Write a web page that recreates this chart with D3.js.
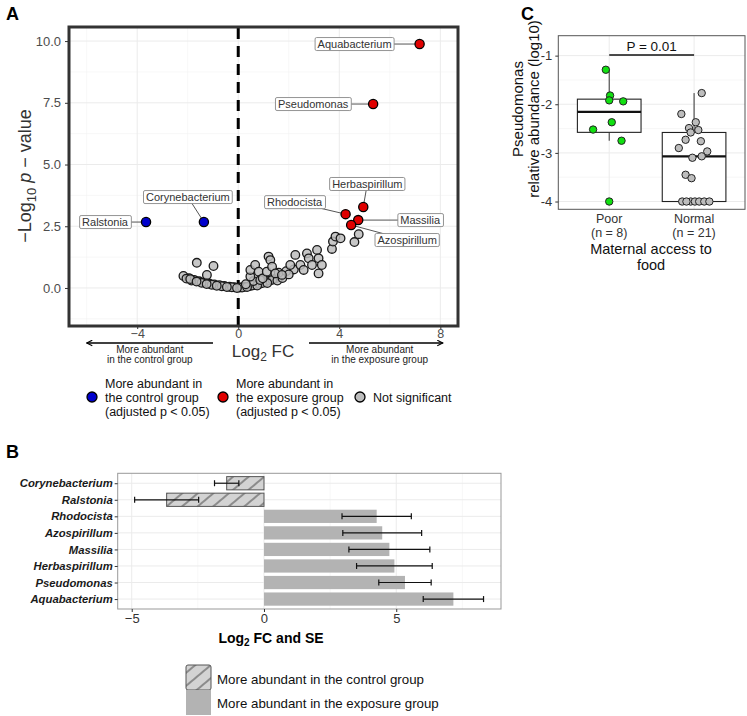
<!DOCTYPE html>
<meta charset="utf-8">
<script src="https://d3js.org/d3.v7.min.js"></script>
<style>
  body { margin: 0; background: #fff; }
  svg text { font-family: "Liberation Sans", Arial, sans-serif; }
</style>
<div id="fig"></div>
<script>

// ---------- data : panel A (volcano) ----------
var sigNames = ["Aquabacterium", "Pseudomonas", "Herbaspirillum", "Rhodocista",
                "Massilia", "Azospirillum", "Corynebacterium", "Ralstonia"];
var sigFC    = [7.18, 5.34, 4.95, 4.25, 4.75, 4.47, -1.36, -3.65];
var sigLogP  = [9.88, 7.45, 3.28, 2.99, 2.75, 2.55, 2.67, 2.67];

var nsFC   = [-2.17, -1.95, -1.75, -1.55, -1.35, -1.15, -0.95, -0.75, -0.55, -0.35, -0.15, 0.05, 0.25, 0.45,
              0.65, 0.85, 1.05, 1.25, 1.45, 1.65, -1.85, -1.45, -1.05, -0.65, -0.25, 0.15, 0.55, 0.95, 1.35,
              -2.05, -1.9, -1.65, -1.25, -0.85, -0.45, -0.05, 0.35, 0.75, 1.15, 1.55, 1.75, 0.6, 0.9, 1.6,
              1.9, 2.2, 2.0, 0.3,
              -1.64, -0.98, -1.24, 0.48, 0.48, 0.67, 0.81, 0.87, 0.97, 1.13, 1.2, 1.27, 1.34, 1.47, 1.73,
              2.06, 2.26, 2.46, 2.59, 2.72, 2.79, 2.92, 3.12, 3.18, 3.18, 3.31, 3.71, 3.75, 3.85, 4.05, 4.6, 4.77];
var nsLogP = [0.49, 0.40, 0.33, 0.27, 0.22, 0.18, 0.14, 0.11, 0.08, 0.05, 0.03, 0.02, 0.05, 0.08,
              0.12, 0.17, 0.23, 0.30, 0.37, 0.45, 0.30, 0.21, 0.13, 0.07, 0.03, 0.02, 0.10, 0.20, 0.33,
              0.38, 0.36, 0.26, 0.16, 0.09, 0.04, 0.00, 0.04, 0.10, 0.20, 0.30, 0.40, 0.28, 0.35, 0.62,
              0.68, 0.75, 0.55, 0.15,
              1.02, 0.89, 0.53, 0.46, 0.73, 0.93, 0.66, 0.32, 0.39, 0.66, 1.27, 1.13, 0.86, 0.59, 0.53,
              0.93, 1.34, 0.93, 0.73, 1.40, 1.20, 0.93, 1.54, 1.20, 0.59, 0.93, 1.58, 1.88, 2.08, 2.01, 1.86, 2.18];

var volcanoXTicks = [-4, 0, 4, 8];
var volcanoYTicks = [0, 2.5, 5, 7.5, 10];

// ---------- data : panel B (bars) ----------
var barNames = ["Corynebacterium", "Ralstonia", "Rhodocista", "Azospirillum",
                "Massilia", "Herbaspirillum", "Pseudomonas", "Aquabacterium"];
var barFC = [-1.41, -3.68, 4.26, 4.47, 4.74, 4.93, 5.33, 7.16];
var barSE = [0.46, 1.21, 1.31, 1.49, 1.53, 1.43, 0.99, 1.14];
var barXTicks = [-5, 0, 5];

// ---------- data : panel C (boxplot) ----------
var groups = ["Poor", "Normal"];
var groupN = [8, 21];
var poorVals   = [-1.29, -1.82, -1.92, -1.94, -2.37, -2.52, -2.75, -4.0];
var poorJit    = [-0.04, 0.01, 0, 0.165, 0.03, -0.19, 0.145, 0];
var normalVals = [-1.77, -2.2, -2.37, -2.49, -2.53, -2.58, -2.73, -2.76, -2.9, -2.97, -3.07,
                  -3.1, -3.45, -3.52, -4, -4, -4, -4, -4, -4, -4];
var normalJit  = [0.09, -0.15, 0.02, -0.06, 0.05, -0.04, -0.1, 0.08, -0.18, 0.155, 0.09,
                  -0.02, -0.1, -0.03, -0.14, -0.04, 0.01, 0.06, 0.12, 0.18, -0.09];
var boxYTicks = [-1, -2, -3, -4];

// label placement (pixel offsets from the point, like ggrepel put them)
var labelOffset = {
  Aquabacterium: [-65, 0], Pseudomonas: [-60, 0], Herbaspirillum: [4, -23],
  Rhodocista: [-51, -12], Massilia: [62, 0], Azospirillum: [56, 15],
  Corynebacterium: [-16, -25], Ralstonia: [-41, 0]
};

var W = 747, H = 716;
var svg = d3.select("#fig").append("svg").attr("width", W).attr("height", H);

// hatch pattern for "control" bars
var defs = svg.append("defs");
var pat = defs.append("pattern")
    .attr("id", "hatch").attr("patternUnits", "userSpaceOnUse")
    .attr("width", 10).attr("height", 10)
    .attr("patternTransform", "rotate(-40)");
pat.append("rect").attr("width", 10).attr("height", 10).attr("fill", "#d3d3d3");
pat.append("line").attr("x1", 0).attr("x2", 10).attr("y1", 5).attr("y2", 5)
    .attr("stroke", "#333").attr("stroke-width", 0.9);

var arrowM = defs.append("marker")
    .attr("id", "arr").attr("viewBox", "0 0 10 10").attr("refX", 9).attr("refY", 5)
    .attr("markerWidth", 7).attr("markerHeight", 7).attr("orient", "auto-start-reverse")
    .attr("markerUnits", "userSpaceOnUse");
arrowM.append("path").attr("d", "M1,1 L9,5 L1,9").attr("fill", "none")
    .attr("stroke", "#000").attr("stroke-width", 1.6);

function styleAxis(g, size, color) {
  g.select(".domain").remove();
  g.selectAll(".tick line").attr("stroke", "#333");
  g.selectAll(".tick text").style("font-size", size + "px").attr("fill", color);
}

function panelLetter(t, x, y) {
  svg.append("text").attr("x", x).attr("y", y).text(t)
    .style("font-size", "18px").style("font-weight", "bold");
}

// =================== PANEL A ===================
var gA = svg.append("g");
var xA = d3.scaleLinear().domain([-6.7, 8.7]).range([69, 458]);
var yA = d3.scaleLinear().domain([-1.54, 10.57]).range([326, 27]);

[-6, -2, 2, 6].forEach(function(v) {
  gA.append("line").attr("x1", xA(v)).attr("x2", xA(v)).attr("y1", 27).attr("y2", 326)
    .attr("stroke", "#f2f2f2").attr("stroke-width", 0.6);
});
[-1.25, 1.25, 3.75, 6.25, 8.75].forEach(function(v) {
  gA.append("line").attr("x1", 69).attr("x2", 458).attr("y1", yA(v)).attr("y2", yA(v))
    .attr("stroke", "#f2f2f2").attr("stroke-width", 0.6);
});
volcanoXTicks.forEach(function(v) {
  gA.append("line").attr("x1", xA(v)).attr("x2", xA(v)).attr("y1", 27).attr("y2", 326)
    .attr("stroke", "#ebebeb").attr("stroke-width", 1);
});
volcanoYTicks.forEach(function(v) {
  gA.append("line").attr("x1", 69).attr("x2", 458).attr("y1", yA(v)).attr("y2", yA(v))
    .attr("stroke", "#ebebeb").attr("stroke-width", 1);
});

// x = 0 dashed line
gA.append("line").attr("x1", xA(0)).attr("x2", xA(0)).attr("y1", 28).attr("y2", 326)
  .attr("stroke", "#000").attr("stroke-width", 3).attr("stroke-dasharray", "11,7");

// not-significant points
gA.selectAll("circle.ns").data(nsFC).enter().append("circle")
  .attr("class", "ns")
  .attr("cx", function(d) { return xA(d); })
  .attr("cy", function(d, i) { return yA(nsLogP[i]); })
  .attr("r", 4.3)
  .attr("fill", "#bdbdbd").attr("fill-opacity", 0.85)
  .attr("stroke", "#1a1a1a").attr("stroke-width", 1.3);

// labels for significant genera
var sig = sigNames.map(function(n, i) {
  return { name: n, fc: sigFC[i], lp: sigLogP[i] };
});
sig.forEach(function(d) {
  var px = xA(d.fc), py = yA(d.lp);
  var off = labelOffset[d.name];
  var cx = px + off[0], cy = py + off[1];
  gA.append("line").attr("x1", px).attr("y1", py).attr("x2", cx).attr("y2", cy)
    .attr("stroke", "#555").attr("stroke-width", 1);
  var lab = gA.append("g");
  var rect = lab.append("rect");
  var t = lab.append("text").attr("x", cx).attr("y", cy).attr("dy", "0.35em")
    .attr("text-anchor", "middle").style("font-size", "11px").attr("fill", "#333").text(d.name);
  var bb = t.node().getBBox();
  rect.attr("x", bb.x - 2.5).attr("y", cy - 6.5).attr("width", bb.width + 5).attr("height", 13)
    .attr("rx", 1.5).attr("fill", "#fff").attr("stroke", "#888").attr("stroke-width", 0.9);
});

// significant points
gA.selectAll("circle.sig").data(sig).enter().append("circle")
  .attr("class", "sig")
  .attr("cx", function(d) { return xA(d.fc); })
  .attr("cy", function(d) { return yA(d.lp); })
  .attr("r", 4.6)
  .attr("fill", function(d) { return d.fc < 0 ? "#0000cd" : "#e00000"; })
  .attr("stroke", "#000").attr("stroke-width", 1.3);

// panel border
gA.append("rect").attr("x", 69).attr("y", 27).attr("width", 389).attr("height", 299)
  .attr("fill", "none").attr("stroke", "#333").attr("stroke-width", 3);

var axA = gA.append("g").attr("transform", "translate(0,327)")
  .call(d3.axisBottom(xA).tickValues(volcanoXTicks).tickSize(2).tickPadding(0)
    .tickFormat(function(d) { return d < 0 ? "\u2212" + Math.abs(d) : d; }));
styleAxis(axA, 12.5, "#4d4d4d");
var ayA = gA.append("g").attr("transform", "translate(68,0)")
  .call(d3.axisLeft(yA).tickValues(volcanoYTicks).tickSize(3).tickPadding(4)
    .tickFormat(d3.format(".1f")));
styleAxis(ayA, 13, "#4d4d4d");

// axis titles
var yl = gA.append("text").attr("transform", "translate(31,176) rotate(-90)")
  .attr("text-anchor", "middle").style("font-size", "18px").attr("fill", "#333");
yl.append("tspan").text("\u2212Log");
yl.append("tspan").attr("dy", 5).style("font-size", "13px").text("10");
yl.append("tspan").attr("dy", -5).style("font-style", "italic").text(" p");
yl.append("tspan").text(" \u2212 value");

var xl = gA.append("text").attr("x", 263).attr("y", 357)
  .attr("text-anchor", "middle").style("font-size", "17px").attr("fill", "#333");
xl.append("tspan").text("Log");
xl.append("tspan").attr("dy", 4).style("font-size", "12px").text("2");
xl.append("tspan").attr("dy", -4).text(" FC");

// direction arrows
gA.append("line").attr("x1", xA(-1)).attr("x2", xA(-6)).attr("y1", 343).attr("y2", 343)
  .attr("stroke", "#000").attr("stroke-width", 1.6).attr("marker-end", "url(#arr)");
gA.append("line").attr("x1", xA(2.8)).attr("x2", xA(8.1)).attr("y1", 343).attr("y2", 343)
  .attr("stroke", "#000").attr("stroke-width", 1.6).attr("marker-end", "url(#arr)");
[[xA(-3.5), ["More abundant", "in the control group"]],
 [xA(5.6), ["More abundant", "in the exposure group"]]].forEach(function(a) {
  var t = gA.append("text").attr("y", 353).attr("text-anchor", "middle")
    .style("font-size", "10px").attr("fill", "#222");
  a[1].forEach(function(s, i) {
    t.append("tspan").attr("x", a[0]).attr("dy", i ? 9.5 : 0).text(s);
  });
});

// legend
var legA = [
  { fill: "#0000cd", x: 92, lines: ["More abundant in", "the control group", "(adjusted p < 0.05)"] },
  { fill: "#e00000", x: 223, lines: ["More abundant in", "the exposure group", "(adjusted p < 0.05)"] },
  { fill: "#bdbdbd", x: 360, lines: ["Not significant"] }
];
legA.forEach(function(l) {
  gA.append("circle").attr("cx", l.x).attr("cy", 397).attr("r", 5)
    .attr("fill", l.fill).attr("stroke", "#000").attr("stroke-width", 1.3);
  var t = gA.append("text").attr("y", l.lines.length === 1 ? 402 : 388)
    .style("font-size", "12.5px").attr("fill", "#111");
  l.lines.forEach(function(s, i) {
    t.append("tspan").attr("x", l.x + 13).attr("dy", i ? 14 : 0).text(s);
  });
});
panelLetter("A", 6, 20);

// =================== PANEL B ===================
var gB = svg.append("g");
var xB = d3.scaleLinear().domain([-5.53, 8.96]).range([117.7, 501]);
var yB = d3.scalePoint().domain(barNames).range([473.3, 609]).padding(0.6);
var bh = yB.step() * 0.8;

[-2.5, 2.5, 7.5].forEach(function(v) {
  gB.append("line").attr("x1", xB(v)).attr("x2", xB(v)).attr("y1", 473.3).attr("y2", 609)
    .attr("stroke", "#f2f2f2").attr("stroke-width", 0.6);
});
barXTicks.forEach(function(v) {
  gB.append("line").attr("x1", xB(v)).attr("x2", xB(v)).attr("y1", 473.3).attr("y2", 609)
    .attr("stroke", "#ebebeb").attr("stroke-width", 1);
});
barNames.forEach(function(n) {
  gB.append("line").attr("x1", 117.7).attr("x2", 501).attr("y1", yB(n)).attr("y2", yB(n))
    .attr("stroke", "#ebebeb").attr("stroke-width", 1);
});

var bars = barNames.map(function(n, i) { return { name: n, fc: barFC[i], se: barSE[i] }; });
gB.selectAll("rect.bar").data(bars).enter().append("rect")
  .attr("class", "bar")
  .attr("x", function(d) { return xB(Math.min(0, d.fc)); })
  .attr("width", function(d) { return Math.abs(xB(d.fc) - xB(0)); })
  .attr("y", function(d) { return yB(d.name) - bh / 2; })
  .attr("height", bh)
  .attr("fill", function(d) { return d.fc < 0 ? "url(#hatch)" : "#b3b3b3"; })
  .attr("stroke", function(d) { return d.fc < 0 ? "#555" : "none"; })
  .attr("stroke-width", 1);

// error bars
bars.forEach(function(d) {
  var y = yB(d.name), lo = xB(d.fc - d.se), hi = xB(d.fc + d.se);
  gB.append("line").attr("x1", lo).attr("x2", hi).attr("y1", y).attr("y2", y)
    .attr("stroke", "#111").attr("stroke-width", 1.2);
  [lo, hi].forEach(function(x) {
    gB.append("line").attr("x1", x).attr("x2", x).attr("y1", y - 3).attr("y2", y + 3)
      .attr("stroke", "#111").attr("stroke-width", 1.2);
  });
});

gB.append("rect").attr("x", 117.7).attr("y", 473.3).attr("width", 501 - 117.7).attr("height", 609 - 473.3)
  .attr("fill", "none").attr("stroke", "#999").attr("stroke-width", 1);

var axB = gB.append("g").attr("transform", "translate(0,609)")
  .call(d3.axisBottom(xB).tickValues(barXTicks).tickSize(3).tickPadding(2));
styleAxis(axB, 13, "#333");
var ayB = gB.append("g").attr("transform", "translate(117.7,0)")
  .call(d3.axisLeft(yB).tickSize(3).tickPadding(2));
styleAxis(ayB, 11.3, "#1a1a1a");
ayB.selectAll(".tick text").style("font-weight", "bold").style("font-style", "italic");

var xlB = gB.append("text").attr("x", 271).attr("y", 643).attr("text-anchor", "middle")
  .style("font-size", "14px").style("font-weight", "bold");
xlB.append("tspan").text("Log");
xlB.append("tspan").attr("dy", 3).style("font-size", "10px").text("2");
xlB.append("tspan").attr("dy", -3).text(" FC and SE");

// legend B
gB.append("rect").attr("x", 186).attr("y", 665).attr("width", 25).attr("height", 25).attr("rx", 2)
  .attr("fill", "url(#hatch)").attr("stroke", "#555");
gB.append("rect").attr("x", 186).attr("y", 690).attr("width", 25).attr("height", 25)
  .attr("fill", "#b3b3b3");
gB.append("text").attr("x", 217).attr("y", 683.5).style("font-size", "13.3px").attr("fill", "#111")
  .text("More abundant in the control group");
gB.append("text").attr("x", 217).attr("y", 707.5).style("font-size", "13.3px").attr("fill", "#111")
  .text("More abundant in the exposure group");
panelLetter("B", 6, 458);

// =================== PANEL C ===================
var gC = svg.append("g");
var xC = d3.scalePoint().domain(groups).range([558.3, 745]).padding(0.6);
var yC = d3.scaleLinear().domain([-4.16, -0.59]).range([209.3, 35.7]);
var unit = xC.step();

[-1.5, -2.5, -3.5].forEach(function(v) {
  gC.append("line").attr("x1", 558.3).attr("x2", 745).attr("y1", yC(v)).attr("y2", yC(v))
    .attr("stroke", "#f2f2f2").attr("stroke-width", 0.6);
});
boxYTicks.forEach(function(v) {
  gC.append("line").attr("x1", 558.3).attr("x2", 745).attr("y1", yC(v)).attr("y2", yC(v))
    .attr("stroke", "#ebebeb").attr("stroke-width", 1);
});
groups.forEach(function(g) {
  gC.append("line").attr("x1", xC(g)).attr("x2", xC(g)).attr("y1", 35.7).attr("y2", 209.3)
    .attr("stroke", "#ebebeb").attr("stroke-width", 1);
});

var groupVals = { Poor: poorVals, Normal: normalVals };
var groupJit = { Poor: poorJit, Normal: normalJit };
var groupFill = { Poor: "#11e011", Normal: "#bdbdbd" };

groups.forEach(function(g) {
  var v = groupVals[g].slice().sort(d3.ascending);
  var q1 = d3.quantile(v, 0.25), med = d3.quantile(v, 0.5), q3 = d3.quantile(v, 0.75);
  var iqr = q3 - q1;
  var lowW = d3.min(v.filter(function(d) { return d >= q1 - 1.5 * iqr; }));
  var hiW = d3.max(v.filter(function(d) { return d <= q3 + 1.5 * iqr; }));
  var cx = xC(g), bw = unit * 0.75;
  gC.append("line").attr("x1", cx).attr("x2", cx).attr("y1", yC(q3)).attr("y2", yC(hiW))
    .attr("stroke", "#333").attr("stroke-width", 1);
  gC.append("line").attr("x1", cx).attr("x2", cx).attr("y1", yC(q1)).attr("y2", yC(lowW))
    .attr("stroke", "#333").attr("stroke-width", 1);
  gC.append("rect").attr("x", cx - bw / 2).attr("width", bw)
    .attr("y", yC(q3)).attr("height", yC(q1) - yC(q3))
    .attr("fill", "#fff").attr("stroke", "#222").attr("stroke-width", 1.1);
  gC.append("line").attr("x1", cx - bw / 2).attr("x2", cx + bw / 2).attr("y1", yC(med)).attr("y2", yC(med))
    .attr("stroke", "#111").attr("stroke-width", 2.2);
});

groups.forEach(function(g) {
  gC.selectAll("circle.p" + g).data(groupVals[g]).enter().append("circle")
    .attr("cx", function(d, i) { return xC(g) + groupJit[g][i] * unit; })
    .attr("cy", function(d) { return yC(d); })
    .attr("r", 3.7)
    .attr("fill", groupFill[g]).attr("stroke", "#222").attr("stroke-width", 1);
});

// significance bar
gC.append("line").attr("x1", xC("Poor")).attr("x2", xC("Normal")).attr("y1", yC(-0.986)).attr("y2", yC(-0.986))
  .attr("stroke", "#111").attr("stroke-width", 1.5);
gC.append("text").attr("x", (xC("Poor") + xC("Normal")) / 2).attr("y", 51).attr("text-anchor", "middle")
  .style("font-size", "13.5px").attr("fill", "#111").text("P = 0.01");

gC.append("rect").attr("x", 558.3).attr("y", 35.7).attr("width", 745 - 558.3).attr("height", 209.3 - 35.7)
  .attr("fill", "none").attr("stroke", "#555").attr("stroke-width", 1);

var ayC = gC.append("g").attr("transform", "translate(558.3,0)")
  .call(d3.axisLeft(yC).tickValues(boxYTicks).tickSize(3).tickPadding(3).tickFormat(d3.format("d")));
styleAxis(ayC, 13, "#333");
ayC.selectAll(".tick text").text(function(d) { return "-" + Math.abs(d); });

groups.forEach(function(g, i) {
  var t = gC.append("text").attr("y", 222.5).attr("text-anchor", "middle")
    .style("font-size", "12.5px").attr("fill", "#333");
  t.append("tspan").attr("x", xC(g)).text(g);
  t.append("tspan").attr("x", xC(g)).attr("dy", 14.5).text("(n = " + groupN[i] + ")");
});
var tC = gC.append("text").attr("y", 253.5).attr("text-anchor", "middle")
  .style("font-size", "14.5px").attr("fill", "#111");
tC.append("tspan").attr("x", 651).text("Maternal access to");
tC.append("tspan").attr("x", 651).attr("dy", 16.5).text("food");

var ylC = gC.append("text").attr("transform", "translate(523,109) rotate(-90)").attr("text-anchor", "middle")
  .style("font-size", "15px").attr("fill", "#111");
ylC.append("tspan").attr("x", 0).text("Pseudomonas");
ylC.append("tspan").attr("x", 0).attr("dy", 16).text("relative abundance (log10)");
panelLetter("C", 521, 20);

</script>
